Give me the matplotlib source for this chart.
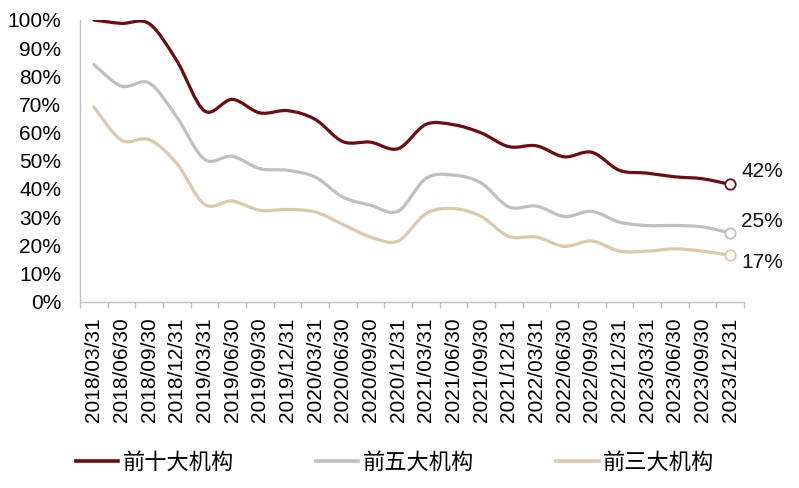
import matplotlib
matplotlib.use("Agg")
import matplotlib.pyplot as plt
from matplotlib.path import Path
from matplotlib.patches import PathPatch
from matplotlib.lines import Line2D
import numpy as np

plt.rcParams['font.family'] = ['Liberation Sans', 'Noto Sans CJK SC', 'DejaVu Sans']

# quarter-end dates
dates = ['2018/03/31', '2018/06/30', '2018/09/30', '2018/12/31',
         '2019/03/31', '2019/06/30', '2019/09/30', '2019/12/31',
         '2020/03/31', '2020/06/30', '2020/09/30', '2020/12/31',
         '2021/03/31', '2021/06/30', '2021/09/30', '2021/12/31',
         '2022/03/31', '2022/06/30', '2022/09/30', '2022/12/31',
         '2023/03/31', '2023/06/30', '2023/09/30', '2023/12/31']

# share held (%)
top10 = [100, 98.8, 98.7, 85.5, 67.7, 71.8, 67.0, 67.8, 64.7, 56.8, 56.6, 54.3,
         62.9, 62.8, 59.9, 55.0, 55.3, 51.4, 53.0, 46.6, 45.6, 44.3, 43.6, 41.6]
top5 = [84.2, 76.5, 77.6, 65.5, 50.5, 51.6, 47.2, 46.6, 44.2, 37.1, 34.2, 32.1,
        43.7, 44.9, 42.1, 33.6, 33.9, 30.2, 32.0, 28.2, 27.0, 27.0, 26.5, 24.4]
top3 = [69.1, 57.3, 57.5, 49.0, 34.5, 35.7, 32.4, 32.7, 31.8, 27.4, 22.9, 21.5,
        31.2, 33.0, 30.2, 23.1, 22.9, 19.6, 21.5, 17.9, 17.9, 18.7, 17.9, 16.4]

names = ['前十大机构', '前五大机构', '前三大机构']
end_labels = ['42%', '25%', '17%']
colors = ['#6E0B0E', '#BFBFBF', '#DCC8AB']


def smooth_path(xs, ys):
    """Excel-style smoothed line as cubic bezier segments"""
    pts = np.column_stack([xs, ys]).astype(float)
    n = len(pts)
    verts = [pts[0]]
    codes = [Path.MOVETO]
    for i in range(n - 1):
        p0 = pts[i - 1] if i > 0 else pts[i]
        p1 = pts[i]
        p2 = pts[i + 1]
        p3 = pts[i + 2] if i + 2 < n else pts[i + 1]
        c1 = p1 + (p2 - p0) / 6.0
        c2 = p2 - (p3 - p1) / 6.0
        verts += [c1, c2, p2]
        codes += [Path.CURVE4] * 3
    return Path(verts, codes)


fig = plt.figure(figsize=(7.99, 4.88), dpi=100)
ax = fig.add_axes([80 / 799, 1 - 301.5 / 488, 664 / 799, 281.5 / 488])

x = np.arange(len(dates))
series = [top10, top5, top3]
offsets = [(8, 9), (8, 8), (8, -5)]
for vals, col, lab, off in zip(series, colors, end_labels, offsets):
    ax.add_patch(PathPatch(smooth_path(x, vals), facecolor='none',
                           edgecolor=col, linewidth=2.3, capstyle='round'))
    ax.plot(x[-1], vals[-1], marker='o', markersize=7.5, markerfacecolor='white',
            markeredgecolor=col, markeredgewidth=1.3, zorder=5)
    ax.annotate(lab, xy=(x[-1], vals[-1]), xytext=off, textcoords='offset points',
                fontsize=15, ha='left', va='center', color='#111111')

ax.set_xlim(-0.5, len(dates) - 0.5)
ax.set_ylim(0, 100)
ax.set_yticks(np.arange(0, 101, 10))
ax.set_yticklabels([f'{v}%' for v in range(0, 101, 10)])
ax.set_xticks(x)
ax.set_xticklabels(dates, rotation=90)
ax.set_xticks(np.arange(-0.5, len(dates), 1), minor=True)
ax.tick_params(axis='x', which='major', length=0, pad=11.5, labelsize=15)
ax.tick_params(axis='x', which='minor', length=4, width=1, color='#BFBFBF')
ax.tick_params(axis='y', length=0, pad=13.5, labelsize=15)

for s in ['top', 'right']:
    ax.spines[s].set_visible(False)
for s in ['left', 'bottom']:
    ax.spines[s].set_color('#BFBFBF')
    ax.spines[s].set_linewidth(1)

handles = [Line2D([0], [0], color=c, linewidth=2.6) for c in colors]
fig.legend(handles, names, loc='center left', bbox_to_anchor=(76 / 799, 1 - 462 / 488),
           ncol=3, frameon=False, borderpad=0, borderaxespad=0,
           handlelength=1.9, handletextpad=0.2, columnspacing=3.7,
           prop={'family': ['Noto Sans CJK SC'], 'size': 16})

fig.savefig('out.png', dpi=100)
